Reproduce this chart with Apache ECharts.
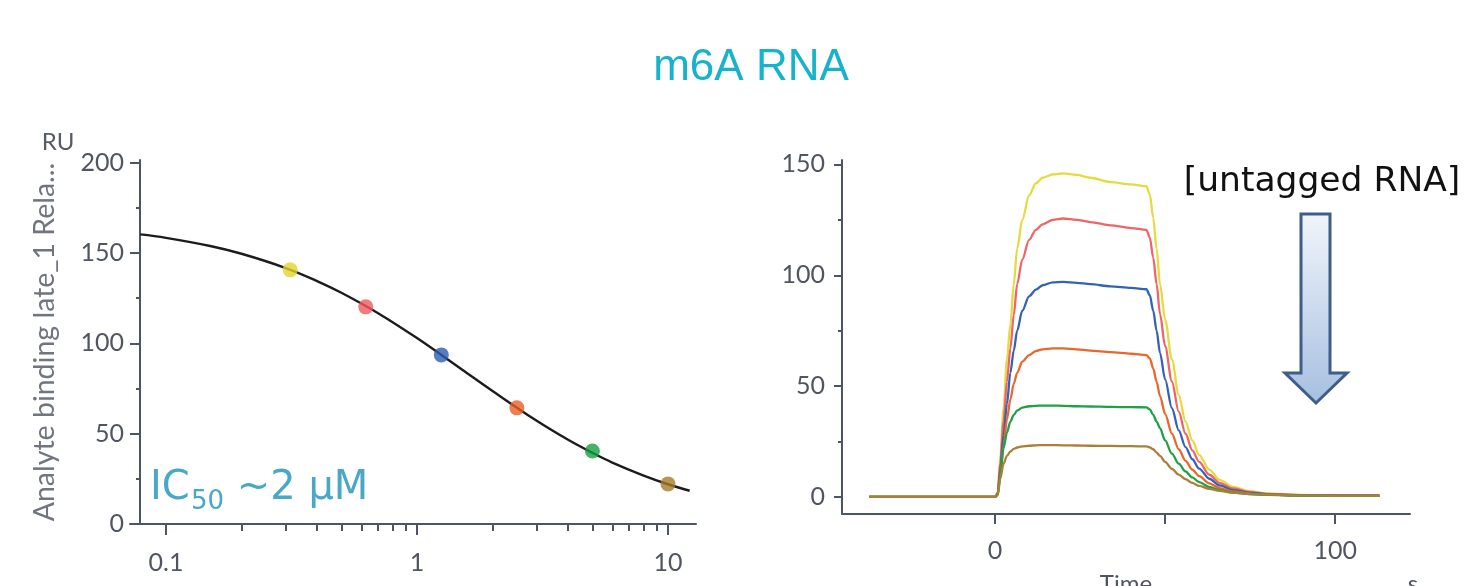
<!DOCTYPE html>
<html>
<head>
<meta charset="utf-8">
<title>m6A RNA</title>
<script src="https://cdn.jsdelivr.net/npm/echarts@6/dist/echarts.min.js"></script>
<style>
  html, body { margin: 0; padding: 0; background: #ffffff; }
  #chart { width: 1470px; height: 586px; }
</style>
</head>
<body>
<div id="chart"></div>
<script>
// ---- Competition curve: late binding vs. untagged RNA concentration (µM) ----
const concUM = [0.3125, 0.625, 1.25, 2.5, 5, 10];
const lateRU = [140.7, 120.2, 93.6, 64.3, 40.4, 22.2];
const pointColors = ['#e2d430', '#f05a5c', '#2c5cb2', '#e95f27', '#15a043', '#a87c2c'];

// fitted dose-response curve, sampled along the concentration axis
const fitConc = [0.079, 0.1, 0.15, 0.2, 0.3, 0.4, 0.5, 0.7, 1, 1.5, 2, 3, 4, 5, 6, 8, 10, 12.2];
const fitRU = [160.3, 158.4, 153.9, 149.6, 141.7, 134.5, 128.0, 116.7, 102.9, 85.8, 73.6, 57.1, 46.6, 39.4, 34.0, 26.8, 22.0, 18.4];

const concTicks = [0.1, 1, 10];
const concTickLabels = ['0.1', '1', '10'];
const concMinorTicks = [0.2, 0.3, 0.4, 0.5, 0.6, 0.7, 0.8, 0.9, 2, 3, 4, 5, 6, 7, 8, 9];
const ruTicksLeft = [0, 50, 100, 150, 200];
const ruMinorLeft = [25, 75, 125, 175];

// ---- Sensorgrams: response (RU) vs. time (s) ----
const timeS = [-37, -20, -5, 0, 0.8, 1.5, 2.5, 3.5, 4.5, 5.5, 6.5, 8,
  10, 12, 14, 17, 20, 24, 28, 34, 40, 44.5,
  45.5, 46.5, 47.5, 48.5, 50, 52, 54, 56, 58, 60,
  63, 66, 70, 75, 80, 90, 100, 113];
const ru0p3125 = [0, 0, 0, 0, 2, 17, 40, 62, 78, 96, 112, 125,
  136, 141.5, 144, 145.5, 146, 145.3, 144, 142, 141, 140.2,
  136.5, 126, 112, 96, 80, 62, 46, 34, 25.5, 19,
  12.3, 7.7, 4.5, 2.6, 1.6, 0.9, 0.7, 0.7];
const ru0p625 = [0, 0, 0, 0, 1.8, 15, 34, 52, 67, 82, 96, 107,
  116, 120.5, 123, 125, 125.6, 125, 124, 122.5, 121.3, 120.5,
  117, 108, 96, 82.5, 68, 52, 38.5, 28.5, 21, 15.8,
  10, 6.3, 3.8, 2.2, 1.4, 0.8, 0.7, 0.7];
const ru1p25 = [0, 0, 0, 0, 1.5, 12, 28, 42, 56, 66, 75, 84,
  90.5, 93.5, 95.5, 96.8, 97, 96.6, 96, 95, 94.3, 93.7,
  91, 84, 75, 65, 53, 40, 30, 22.5, 17, 12.8,
  8.2, 5.2, 3.1, 1.9, 1.2, 0.7, 0.6, 0.6];
const ru2p5 = [0, 0, 0, 0, 1.2, 10, 23, 35, 44, 51, 56, 61,
  64, 65.8, 66.6, 67, 67, 66.6, 66, 65.3, 64.6, 64,
  62.5, 58, 52, 45.5, 37.5, 28.5, 21.5, 16.3, 12.3, 9.4,
  6.1, 4, 2.5, 1.5, 1, 0.6, 0.5, 0.5];
const ru5 = [0, 0, 0, 0, 1, 9, 22, 29, 34, 37, 39, 40.3,
  40.9, 41.1, 41.2, 41.2, 41.1, 40.9, 40.8, 40.6, 40.5, 40.4,
  39.5, 37, 34, 31, 25.5, 19.5, 15, 11.5, 8.8, 6.7,
  4.5, 3.1, 2, 1.3, 0.9, 0.6, 0.5, 0.5];
const ru10 = [0, 0, 0, 0, 0.8, 8, 15, 18.5, 20.5, 21.7, 22.3, 22.8,
  23.1, 23.3, 23.4, 23.4, 23.3, 23.2, 23.1, 23, 22.9, 22.8,
  22.4, 21.5, 20, 18.5, 15.8, 12.7, 10.1, 8, 6.3, 5,
  3.6, 2.7, 1.9, 1.3, 1, 0.6, 0.5, 0.5];
const traceNames = ['0.3125 µM', '0.625 µM', '1.25 µM', '2.5 µM', '5 µM', '10 µM'];
const traceValues = [ru0p3125, ru0p625, ru1p25, ru2p5, ru5, ru10];
const traceColors = ['#e5da3e', '#ef6466', '#3462b6', '#e8672d', '#21a047', '#a98038'];

const timeTicks = [0, 50, 100];
const timeTickLabels = [0, 100];
const ruTicksRight = [0, 50, 100, 150];
const ruMinorRight = [25, 75, 125];

// ---- styling ----
const axisColor = '#4b5566';
const labelColor = '#4f5561';
const tickFont = 'Lato';

function zip(xs, ys) { return xs.map((x, i) => [x, ys[i]]); }

const chart = echarts.init(document.getElementById('chart'), null, { renderer: 'canvas' });

const axisLineStyle = { show: true, onZero: false, lineStyle: { color: axisColor, width: 2 } };
const noLine = { show: false, onZero: false };
const tickLabel = (extra) => Object.assign({
  color: labelColor, fontSize: 25, fontFamily: tickFont
}, extra);

const option = {
  backgroundColor: '#ffffff',
  animation: false,
  grid: [
    { left: 130, top: 160, width: 566, bottom: 62, outerBoundsMode: 'none', containLabel: false },
    { left: 842, top: 160, width: 568, bottom: 72, outerBoundsMode: 'none', containLabel: false }
  ],
  xAxis: [
    { // concentration, major ticks
      type: 'log', logBase: 10, gridIndex: 0, position: 'bottom',
      min: 0.0719, max: 12.93,
      axisLine: axisLineStyle,
      axisTick: { show: true, length: 11, customValues: concTicks, lineStyle: { color: axisColor, width: 2 } },
      axisLabel: tickLabel({
        margin: 26, customValues: concTicks,
        formatter: (v) => {
          const i = concTicks.findIndex(t => Math.abs(Math.log10(t) - Math.log10(v)) < 1e-6);
          return i >= 0 ? concTickLabels[i] : '';
        }
      }),
      splitLine: { show: false }, minorTick: { show: false }
    },
    { // concentration, minor ticks
      type: 'log', logBase: 10, gridIndex: 0, position: 'bottom',
      min: 0.0719, max: 12.93,
      axisLine: noLine,
      axisTick: { show: true, length: 7, customValues: concMinorTicks, lineStyle: { color: axisColor, width: 2 } },
      axisLabel: { show: false },
      splitLine: { show: false }
    },
    { // time
      type: 'value', gridIndex: 1, position: 'bottom',
      min: -45, max: 122,
      axisLine: axisLineStyle,
      axisTick: { show: true, length: 10, customValues: timeTicks, lineStyle: { color: axisColor, width: 2 } },
      axisLabel: tickLabel({ margin: 24, customValues: timeTickLabels }),
      splitLine: { show: false }
    }
  ],
  yAxis: [
    { // late binding, major ticks
      type: 'value', gridIndex: 0, position: 'left', offset: -10,
      min: 0, max: 201.5,
      name: 'Analyte binding late_1 Rela...',
      nameLocation: 'middle', nameRotate: 90, nameGap: 81,
      nameTextStyle: { color: '#70757f', fontSize: 28.5, fontFamily: tickFont },
      axisLine: axisLineStyle,
      axisTick: { show: true, length: 10, customValues: ruTicksLeft, lineStyle: { color: axisColor, width: 2 } },
      axisLabel: tickLabel({ margin: 16, customValues: ruTicksLeft }),
      splitLine: { show: false }
    },
    { // late binding, minor ticks
      type: 'value', gridIndex: 0, position: 'left', offset: -10,
      min: 0, max: 201.5,
      axisLine: noLine,
      axisTick: { show: true, length: 4, customValues: ruMinorLeft, lineStyle: { color: axisColor, width: 2 } },
      axisLabel: { show: false },
      splitLine: { show: false }
    },
    { // response, major ticks
      type: 'value', gridIndex: 1, position: 'left',
      min: -7.7, max: 152,
      axisLine: axisLineStyle,
      axisTick: { show: true, length: 8, customValues: ruTicksRight, lineStyle: { color: axisColor, width: 2 } },
      axisLabel: tickLabel({ margin: 17, customValues: ruTicksRight }),
      splitLine: { show: false }
    },
    { // response, minor ticks
      type: 'value', gridIndex: 1, position: 'left',
      min: -7.7, max: 152,
      axisLine: noLine,
      axisTick: { show: true, length: 4, customValues: ruMinorRight, lineStyle: { color: axisColor, width: 2 } },
      axisLabel: { show: false },
      splitLine: { show: false }
    }
  ],
  series: [
    {
      name: 'fit', type: 'line', xAxisIndex: 0, yAxisIndex: 0,
      data: zip(fitConc, fitRU), smooth: 0.4, showSymbol: false,
      lineStyle: { color: '#1c1c1c', width: 2.4 }, z: 2
    },
    {
      name: 'late binding', type: 'scatter', xAxisIndex: 0, yAxisIndex: 0,
      data: concUM.map((c, i) => ({ value: [c, lateRU[i]], itemStyle: { color: pointColors[i] } })),
      symbolSize: 15, z: 3
    }
  ].concat(traceValues.map((vals, i) => ({
    name: traceNames[i], type: 'line', xAxisIndex: 2, yAxisIndex: 2,
    data: zip(timeS, vals), smooth: 0.3, smoothMonotone: 'x', showSymbol: false,
    lineStyle: { color: traceColors[i], width: 2.3 }, z: 2 + i
  }))),
  graphic: [
    { type: 'text', x: 751, y: 68, style: { text: 'm6A RNA', font: '44px "Liberation Sans", Arial, sans-serif', fill: '#17b2cb', textAlign: 'center', textVerticalAlign: 'middle' } },
    { type: 'text', x: 58, y: 142, style: { text: 'RU', font: '24px Lato', fill: '#575c66', textAlign: 'center', textVerticalAlign: 'middle' } },
    { type: 'text', x: 150, y: 489, style: { text: 'IC', font: '40px "DejaVu Sans"', fill: '#48a8c6', textAlign: 'left', textVerticalAlign: 'middle' } },
    { type: 'text', x: 191, y: 502, style: { text: '50', font: '26px "DejaVu Sans"', fill: '#48a8c6', textAlign: 'left', textVerticalAlign: 'middle' } },
    { type: 'text', x: 224, y: 489, style: { text: ' ~2 µM', font: '40px "DejaVu Sans"', fill: '#48a8c6', textAlign: 'left', textVerticalAlign: 'middle' } },
    { type: 'text', x: 1322, y: 182, style: { text: '[untagged RNA]', font: '34.5px "DejaVu Sans"', fill: '#111111', textAlign: 'center', textVerticalAlign: 'middle' } },
    {
      type: 'polygon',
      shape: { points: [[1301, 214], [1330, 214], [1330, 373], [1347, 373], [1316, 403], [1285, 373], [1301, 373]] },
      style: {
        fill: { type: 'linear', x: 0, y: 0, x2: 0, y2: 1, colorStops: [{ offset: 0, color: '#f1f5fb' }, { offset: 1, color: '#a6bfe0' }] },
        stroke: '#3d5d8b', lineWidth: 3, lineJoin: 'miter'
      }
    },
    { type: 'text', x: 1126, y: 572, style: { text: 'Time', font: '24px Lato', fill: labelColor, textAlign: 'center', textVerticalAlign: 'top' } },
    { type: 'text', x: 1413, y: 572, style: { text: 's', font: '24px Lato', fill: labelColor, textAlign: 'center', textVerticalAlign: 'top' } }
  ]
};

chart.setOption(option);
</script>
</body>
</html>
